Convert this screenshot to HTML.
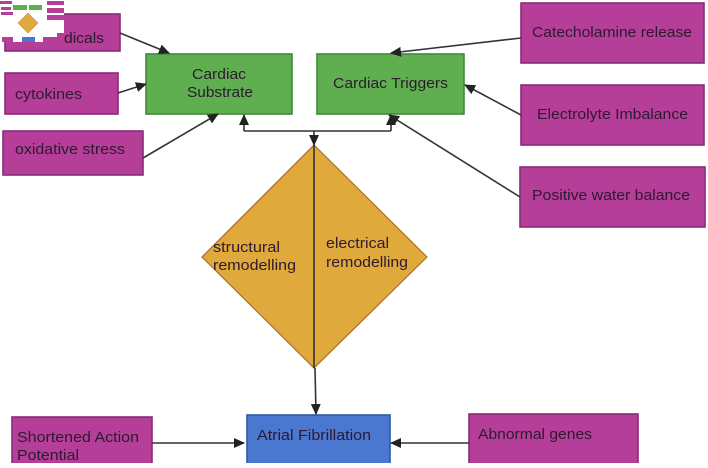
<!DOCTYPE html>
<html><head><meta charset="utf-8"><style>
html,body{margin:0;padding:0;background:#fff;width:708px;height:468px;overflow:hidden}
svg{display:block;filter:blur(.35px)}
text{font-family:"Liberation Sans",sans-serif;font-size:15px;fill:#2e1a30}
</style></head><body>
<svg width="708" height="468" viewBox="0 0 708 468" xmlns="http://www.w3.org/2000/svg">
<defs><marker id="a" markerWidth="11" markerHeight="10" refX="10" refY="5" orient="auto" markerUnits="userSpaceOnUse"><path d="M0 0L11 5L0 10Z" fill="#222"/></marker></defs>
<g stroke="#8a2a78" stroke-width="1.6" fill="#b43e98">
<rect x="5" y="14" width="115" height="37"/>
<rect x="5" y="73" width="113" height="41"/>
<rect x="3" y="131" width="140" height="44"/>
<rect x="521" y="3" width="183" height="60"/>
<rect x="521" y="85" width="183" height="60"/>
<rect x="520" y="167" width="185" height="60"/>
<rect x="12" y="417" width="140" height="60"/>
<rect x="469" y="414" width="169" height="60"/>
</g>
<g stroke="#3f8a38" stroke-width="1.6" fill="#5fae50">
<rect x="146" y="54" width="146" height="60"/>
<rect x="317" y="54" width="147" height="60"/>
</g>
<rect x="247" y="415" width="143" height="60" fill="#4a78d0" stroke="#2c58a8" stroke-width="1.6"/>
<path d="M314 145L427 257L314 368L202 257Z" fill="#dfa93c" stroke="#a8702a" stroke-width="1.2"/>
<g stroke="#333" stroke-width="1.6" fill="none" marker-end="url(#a)">
<path d="M120 33L169 53"/>
<path d="M118 93L146 84"/>
<path d="M143 158L218 114"/>
<path d="M521 38L391 53"/>
<path d="M521 115L465 85"/>
<path d="M520 197L389 115"/>
<path d="M152 443L244 443"/>
<path d="M469 443L391 443"/>
<path d="M315 368L316 414"/>
<path d="M314 131L314 145"/>
<path d="M244 131L244 115"/>
<path d="M391 131L391 115"/>
</g>
<path d="M244 131L391 131M314 145L314 368" stroke="#333" stroke-width="1.6" fill="none"/>
<text x="15" y="99" textLength="67" lengthAdjust="spacingAndGlyphs">cytokines</text>
<text x="15" y="154" textLength="110" lengthAdjust="spacingAndGlyphs">oxidative stress</text>
<text x="64" y="43" textLength="40" lengthAdjust="spacingAndGlyphs">dicals</text>
<text x="192" y="79" textLength="54" lengthAdjust="spacingAndGlyphs">Cardiac</text>
<text x="187" y="97" textLength="66" lengthAdjust="spacingAndGlyphs">Substrate</text>
<text x="333" y="88" textLength="115" lengthAdjust="spacingAndGlyphs">Cardiac Triggers</text>
<text x="532" y="37" textLength="160" lengthAdjust="spacingAndGlyphs">Catecholamine release</text>
<text x="537" y="119" textLength="151" lengthAdjust="spacingAndGlyphs">Electrolyte Imbalance</text>
<text x="532" y="200" textLength="158" lengthAdjust="spacingAndGlyphs">Positive water balance</text>
<text x="213" y="252" textLength="67" lengthAdjust="spacingAndGlyphs">structural</text>
<text x="213" y="270" textLength="83" lengthAdjust="spacingAndGlyphs">remodelling</text>
<text x="326" y="248" textLength="63" lengthAdjust="spacingAndGlyphs">electrical</text>
<text x="326" y="267" textLength="82" lengthAdjust="spacingAndGlyphs">remodelling</text>
<text x="257" y="440" textLength="114" lengthAdjust="spacingAndGlyphs">Atrial Fibrillation</text>
<text x="478" y="439" textLength="114" lengthAdjust="spacingAndGlyphs">Abnormal genes</text>
<text x="17" y="442" textLength="122" lengthAdjust="spacingAndGlyphs">Shortened Action</text>
<text x="17" y="460" textLength="62" lengthAdjust="spacingAndGlyphs">Potential</text>
<rect x="0" y="463" width="708" height="5" fill="#fff"/>
<rect x="0" y="0" width="64" height="33" fill="#fff"/>
<rect x="0" y="33" width="57" height="9" fill="#fff"/>
<g fill="#b43e98">
<rect x="0" y="1" width="12" height="3"/>
<rect x="1" y="7" width="10" height="3"/>
<rect x="1" y="12" width="12" height="3"/>
<rect x="47" y="1" width="17" height="4"/>
<rect x="47" y="8" width="17" height="5"/>
<rect x="47" y="15" width="17" height="5"/>
<rect x="2" y="37" width="11" height="5"/>
<rect x="43" y="37" width="14" height="5"/>
</g>
<rect x="13" y="5" width="14" height="5" fill="#5fae50"/>
<rect x="29" y="5" width="13" height="5" fill="#5fae50"/>
<path d="M28 13L38 23L28 33L18 23Z" fill="#dfa93c" stroke="#a8702a" stroke-width=".5"/>
<rect x="22" y="37" width="13" height="5" fill="#4a78d0"/>
</svg>
</body></html>
